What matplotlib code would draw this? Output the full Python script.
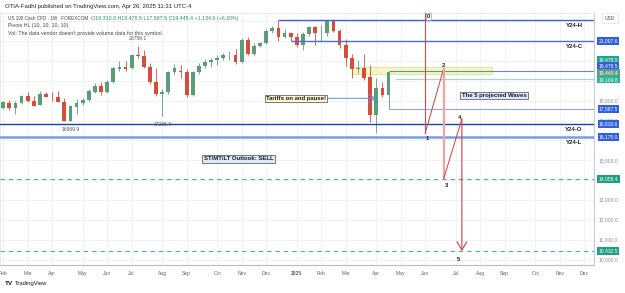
import matplotlib
matplotlib.use('Agg')
import matplotlib.pyplot as plt
import numpy as np
import pandas as pd

# ---------------- data ----------------
dates = pd.date_range('2024-02-05', periods=64, freq='7D')
opens = [17618, 17900, 17630, 17884, 18236, 17985, 17784, 18337, 18200, 18170,
         17950, 16990, 17700, 17870, 18035, 18453, 18754, 18453, 18955, 19580,
         19680, 19630, 20298, 20250, 19700, 18955, 18337, 18450, 19458, 19490,
         19440, 18287, 19458, 19745, 19960, 20040, 20160, 20280, 20300, 19960,
         21050, 20330, 20750, 20887, 21520, 21640, 21220, 21390, 21220, 20800,
         21355, 21690, 21390, 21400, 22020, 21520, 20800, 20130, 19580, 19660,
         19200, 17300, 18620, 18310.8]
highs = [17990, 18040, 17960, 18300, 18420, 18220, 18470, 18420, 18450, 18470,
         18130, 17760, 18070, 18140, 18600, 18900, 18950, 19050, 19700, 19980,
         19980, 20350, 20759.1, 20560, 19900, 19650, 18600, 19500, 19850, 19800,
         19600, 19500, 19890, 20100, 20150, 20300, 20400, 20480, 20590, 21170,
         21190, 20880, 20950, 21600, 21750, 22060, 21620, 21480, 21400, 21450,
         21780, 21760, 21800, 22060, 22100, 21630, 21100, 20330, 20050, 20350,
         19800, 19125, 18950, 19478.5]
lows = [17560, 17530, 17330, 17850, 17950, 17730, 17760, 18200, 17980, 17950,
        17000, 16969.9, 17310, 17800, 18000, 18390, 18300, 18400, 18900, 19500,
        19500, 19600, 20150, 19650, 18850, 18250, 17236.4, 18330, 19350, 19120,
        18200, 18250, 19320, 19650, 19700, 19780, 20050, 20050, 19830, 19900,
        20300, 20240, 20680, 20850, 21390, 21000, 21150, 20980, 20700, 20540,
        21230, 20800, 21000, 21250, 21480, 20640, 19760, 19150, 19380, 19050,
        16930, 16370, 18200, 17587.5]
closes = [17950, 17630, 17884, 18236, 17985, 17750, 18337, 18200, 18170, 17950,
          17000, 17733, 17870, 18035, 18503, 18754, 18453, 18955, 19630, 19680,
          19580, 20298, 20250, 19700, 18955, 18337, 18450, 19458, 19630, 19440,
          18287, 19458, 19745, 19930, 20040, 20160, 20280, 20300, 19960, 21050,
          20330, 20750, 20887, 21520, 21640, 21220, 21390, 21220, 20800, 21355,
          21690, 21390, 21400, 22020, 21520, 20800, 20130, 19580, 19660, 19127,
          17300, 18620, 18290, 19445.4]
pivot_idx = [22, 11, 26]          # high 20759.1, low 16969.9, low 17236.4
pivot_is_high = [True, False, False]

y24_high, y24_close, y24_open, y24_low = 22060, 21007.6, 16816.6, 16175.0
y24_high_start, y24_close_start = '2024-12-16', '2024-12-30'
last_high, last_low, pivot_mid = 19478.5, 17587.5, 19109.8
zone_start, zone_end, zone_top, zone_bottom = '2025-03-10', '2025-08-18', 19710, 19340
tariff_arrow_start, tariff_arrow_end, tariff_arrow_price = '2025-02-09', '2025-04-07', 18120
target_levels = [14055.4, 10432.5]
wave_labels = ['0', '1', '2', '3', '4', '5']
wave_dates = pd.to_datetime(['2025-06-02', '2025-06-02', '2025-06-23',
                             '2025-06-23', '2025-07-14', '2025-07-14'])
wave_prices = [22420, 16375, 19594, 14055.4, 17080, 10432.5]
price_ticks = [10000, 11000, 12000, 13000, 15000, 17000, 18000]
grid_prices = np.arange(10000, 23000, 1000)

# ---------------- figure ----------------
W, H = 625, 293
fig = plt.figure(figsize=(W / 100, H / 100), dpi=100)
plt.rcParams['font.family'] = ['Liberation Sans', 'DejaVu Sans']
ax = fig.add_axes([0, (H - 265) / H, 594 / W, 252 / H])
ax.set_ylim(9735, 22411)
ax.set_xlim(pd.Timestamp('2024-02-01 08:00'), pd.Timestamp('2025-12-12 05:00'))
xmax = ax.get_xlim()[1]

GRID = '#eef0f4'
for p in grid_prices:
    ax.axhline(p, color=GRID, lw=0.6, zorder=0)
month_ticks = pd.date_range('2024-02-01', '2025-12-31', freq='WOM-1MON')
for d in month_ticks:
    ax.axvline(d, color=GRID, lw=0.6, zorder=0)

ax.set_xticks(month_ticks)
labels = ['2025' if (d.month == 1) else d.strftime('%b') for d in month_ticks]
ax.set_xticklabels(labels)
for t, d in zip(ax.get_xticklabels(), month_ticks):
    if d.month == 1:
        t.set_fontweight('bold')
ax.tick_params(axis='x', length=0, labelsize=3.6, labelcolor='#666666', pad=4)
ax.set_yticks([])
for s in ['top', 'left']:
    ax.spines[s].set_color('#e6e8ee')
    ax.spines[s].set_linewidth(0.6)
ax.spines['bottom'].set_color('#b8bcc6')
ax.spines['right'].set_color('#c8ccd4')
ax.spines['bottom'].set_linewidth(0.8)
ax.spines['right'].set_linewidth(0.8)

# ---------------- candles ----------------
UP, DOWN = '#5a9e79', '#da4b3a'
o = np.array(opens); h = np.array(highs); l = np.array(lows); c = np.array(closes)
cols = np.where(c >= o, UP, DOWN)
ax.vlines(dates, l, h, colors=cols, lw=0.6, zorder=3)
ax.bar(dates, np.maximum(np.abs(c - o), 18), bottom=np.minimum(o, c), width=4.3,
       color=cols, lw=0, zorder=4)

for i, up in zip(pivot_idx, pivot_is_high):
    val = h[i] if up else l[i]
    ax.annotate(f'{val:.1f}', xy=(dates[i], val), xytext=(0, 5 if up else -6),
                textcoords='offset points', ha='center', va='center',
                fontsize=3.6, color='#555555', zorder=6)

# ---------------- levels ----------------
ax.hlines(y24_high, pd.Timestamp(y24_high_start), xmax, color='#3d63d8', lw=1.0, zorder=5)
ax.hlines(y24_close, pd.Timestamp(y24_close_start), xmax, color='#4a6fdc', lw=1.0, zorder=5)
ax.axhline(y24_open, color='#1e3fae', lw=1.0, zorder=5)
ax.axhline(y24_low, color='#7f9be6', lw=1.8, zorder=5)
for name, val in [('Y24-H', y24_high), ('Y24-C', y24_close), ('Y24-O', y24_open), ('Y24-L', y24_low)]:
    ax.annotate(name, xy=(574 / 594, val), xycoords=('axes fraction', 'data'),
                xytext=(0, -4), textcoords='offset points', ha='center', va='center',
                fontsize=4.3, fontweight='bold', color='#222222', zorder=7)

ax.hlines(last_high, dates[-1], xmax, color='#4f93c4', lw=0.8, zorder=5)
ax.hlines(pivot_mid, dates[-1] + pd.Timedelta(days=8), xmax, color='#9fd8cc', lw=0.8, zorder=5)
ax.hlines(last_low, dates[-1], xmax, color='#8ea6e2', lw=0.8, zorder=5)

ax.fill_between([pd.Timestamp(zone_start), pd.Timestamp(zone_end)], zone_bottom, zone_top,
                facecolor='#f4f4a8', edgecolor='#cfd98a', lw=0.6, alpha=0.75, zorder=2)

for lvl in target_levels:
    ax.axhline(lvl, color='#45b59e', lw=0.8, ls=(0, (4, 3.5)), zorder=5)

# ---------------- waves ----------------
RED = '#d0403c'
ax.plot(wave_dates[0:2], wave_prices[0:2], color='#c9504c', lw=0.8, zorder=6)
ax.plot(wave_dates[1:3], wave_prices[1:3], color=RED, lw=0.7, zorder=6)
ax.plot(wave_dates[2:4], wave_prices[2:4], color='#f0a4a4', lw=1.6, zorder=6)
ax.plot(wave_dates[3:5], wave_prices[3:5], color=RED, lw=0.7, zorder=6)
ax.annotate('', xy=(wave_dates[5], wave_prices[5]), xytext=(wave_dates[4], wave_prices[4]),
            arrowprops=dict(arrowstyle='->,head_length=0.6,head_width=0.35', color=RED, lw=0.8,
                            shrinkA=0, shrinkB=0), zorder=6)
wave_offsets = [(2.5, -2.5), (1.8, -4.2), (0, 2.6), (2.2, -4.5), (-2.0, 1.3), (-2.2, -5.7)]
for lab, d, p, off in zip(wave_labels, wave_dates, wave_prices, wave_offsets):
    kw = {}
    if lab == '0':
        kw['bbox'] = dict(boxstyle='square,pad=0.15', fc='white', ec='#888888', lw=0.4)
        p = min(p, ax.get_ylim()[1])
    ax.annotate(lab, xy=(d, p), xytext=off, textcoords='offset points', ha='center',
                va='center', fontsize=4.2, fontweight='bold', color='#222222', zorder=8, **kw)

# ---------------- text boxes ----------------
def box_text(x, y, s, fc):
    fig.text(x / W, 1 - y / H, s, ha='center', va='center', fontsize=4.3, fontweight='bold',
             color='#1a1a2e', zorder=9,
             bbox=dict(boxstyle='square,pad=0.25', fc=fc, ec='#444b5a', lw=0.5))

box_text(296, 98.5, 'Tariffs on and pause!', '#fdf9cf')
box_text(494, 95.5, 'The 5 projected Waves', '#dde9f7')
box_text(238.7, 158.7, 'ST/MT/LT Outlook: SELL', '#dde9f7')
ax.annotate('', xy=(pd.Timestamp(tariff_arrow_end), tariff_arrow_price),
            xytext=(pd.Timestamp(tariff_arrow_start), tariff_arrow_price),
            arrowprops=dict(arrowstyle='->,head_length=0.5,head_width=0.3', color='#5b8def', lw=0.7,
                            shrinkA=0, shrinkB=0), zorder=6)

# ---------------- right price scale ----------------
def price_label(val, fc, dy=0, tc='white'):
    ax.annotate(f'{val:,.1f}', xy=(1, val), xycoords=('axes fraction', 'data'),
                xytext=(10.4, dy), textcoords='offset points', ha='center', va='center',
                fontsize=3.6, color=tc, annotation_clip=False, zorder=9,
                bbox=dict(boxstyle='square,pad=0.25', fc=fc, ec='none'))

for p in price_ticks:
    ax.annotate(f'{p:,.1f}', xy=(1, p), xycoords=('axes fraction', 'data'), xytext=(10.4, 0),
                textcoords='offset points', ha='center', va='center', fontsize=3.6,
                color='#8a8e98', annotation_clip=False)
price_label(y24_close, '#2f5fe0')
price_label(last_high, '#1fa58c', dy=8.6)
price_label(last_high, '#2f5fe0', dy=3.8)
price_label(closes[-1], '#5f9d83', dy=-0.5)
price_label(pivot_mid, '#2cb39a', dy=-0.8)
price_label(last_low, '#2f5fe0')
price_label(y24_open, '#2f5fe0')
price_label(y24_low, '#2f5fe0')
for lvl in target_levels:
    price_label(lvl, '#1f9e84')
fig.text(610 / W, 1 - 18 / H, 'USD', ha='center', va='center', fontsize=3.6, color='#555555',
         bbox=dict(boxstyle='square,pad=0.5', fc='white', ec='#dddddd', lw=0.5))

# ---------------- header texts ----------------
fig.text(5 / W, 1 - 6.5 / H, 'OTIA-Fadhl published on TradingView.com, Apr 26, 2025 11:31 UTC-4',
         fontsize=4.35, color='#222222', va='center')
fig.text(8 / W, 1 - 18.5 / H, 'US 100 Cash CFD \u00b7 1W \u00b7 FOREXCOM', fontsize=3.35,
         color='#444444', va='center')
fig.text(91 / W, 1 - 18.5 / H, 'O18,310.8 H19,478.5 L17,587.5 C19,445.4 +1,134.6 (+6.20%)',
         fontsize=3.75, color='#2e8f6a', va='center')
fig.text(8 / W, 1 - 25.5 / H, 'Pivots HL (10, 10, 10, 10)', fontsize=3.8, color='#444444', va='center')
fig.text(8 / W, 1 - 33 / H, "Vol: The data vendor doesn't provide volume data for this symbol.",
         fontsize=3.8, color='#444444', va='center')
fig.text(5 / W, 1 - 283.5 / H, 'TV', fontsize=4.6, fontweight='bold', color='#131722', va='center')
fig.text(15 / W, 1 - 283.5 / H, 'TradingView', fontsize=4.2, color='#131722', va='center')

fig.savefig('out.png', dpi=100)
